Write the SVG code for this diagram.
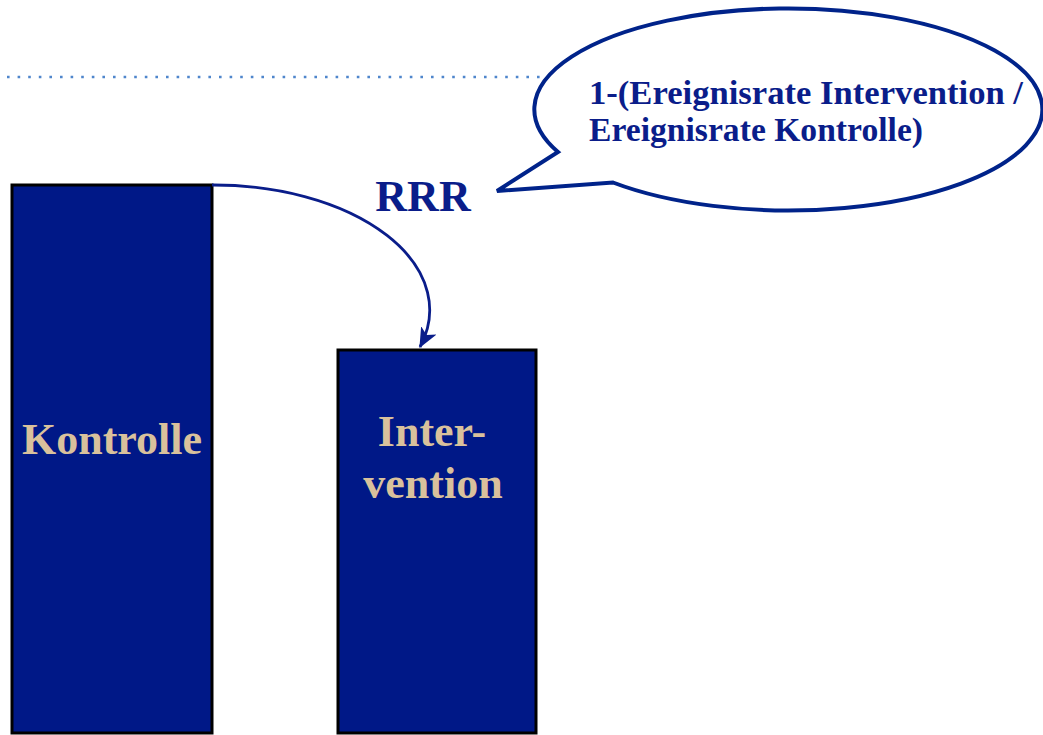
<svg xmlns="http://www.w3.org/2000/svg" width="1043" height="735" viewBox="0 0 1043 735">
<style>
.bar{fill:#001887;stroke:#000;stroke-width:3}
.lbl{font-family:"Liberation Serif","Times New Roman",serif;font-weight:bold;font-size:44px;fill:#d9c19c;text-anchor:middle}
.blue{font-family:"Liberation Serif","Times New Roman",serif;font-weight:bold;fill:#0a1d8a}
.conn{fill:none;stroke:#0a1d8a;stroke-width:2.8}
</style>
<defs>
<marker id="ah" markerUnits="userSpaceOnUse" markerWidth="20" markerHeight="20" viewBox="0 0 16 16" refX="15" refY="8" orient="auto">
<path d="M0,1 L16,8 L0,15 L4,8 Z" fill="#0a1d8a"/>
</marker>
</defs>
<rect width="1043" height="735" fill="#fff"/>
<line x1="7" y1="77" x2="548" y2="77" stroke="#4f86cc" stroke-width="2.6" stroke-dasharray="2.6 8"/>
<g id="kontrolle">
<rect class="bar" x="12" y="185" width="200" height="548"/>
<text class="lbl" x="112" y="454">Kontrolle</text>
</g>
<g id="intervention">
<rect class="bar" x="338" y="350" width="198" height="383"/>
<text class="lbl" x="432" y="446">Inter-</text>
<text class="lbl" x="433" y="498">vention</text>
</g>
<g id="rrr">
<text class="blue" x="423" y="211" font-size="44" text-anchor="middle">RRR</text>
</g>
<g id="callout">
<path d="M613,182.5 A254,101 0 1 0 558,152 L497,191 Z" fill="#fff" stroke="#00238a" stroke-width="4" stroke-linejoin="miter"/>
<text class="blue" x="589" y="104" font-size="33" textLength="434" lengthAdjust="spacingAndGlyphs">1-(Ereignisrate Intervention /</text>
<text class="blue" x="589" y="141" font-size="33" textLength="334" lengthAdjust="spacingAndGlyphs">Ereignisrate Kontrolle)</text>
</g>
<g id="connectors">
<path class="conn" d="M212,185 A216,125 0 0 1 420,347" marker-end="url(#ah)"/>
</g>
</svg>
